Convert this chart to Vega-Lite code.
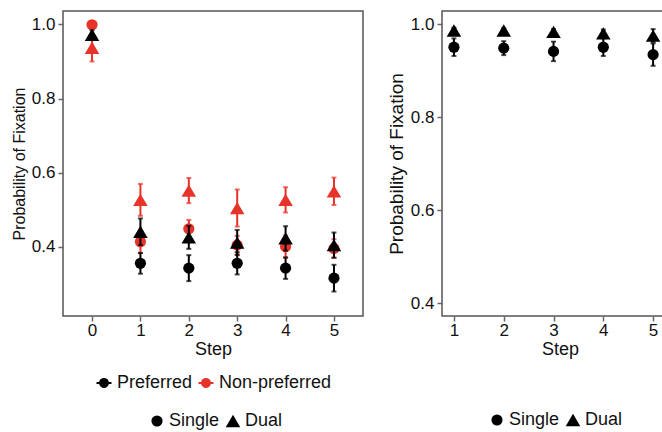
{
  "$schema": "https://vega.github.io/schema/vega-lite/v6.json",
  "autosize": {"type": "pad"},
  "padding": {"left": 10, "top": 10, "right": 0, "bottom": 0},
  "background": "white",
  "datasets": {
    "left": [
      {"step": 0, "cond": "Non-preferred", "task": "Single", "mean": 0.999, "err": 0.0},
      {"step": 1, "cond": "Non-preferred", "task": "Single", "mean": 0.414, "err": 0.030},
      {"step": 2, "cond": "Non-preferred", "task": "Single", "mean": 0.449, "err": 0.024},
      {"step": 3, "cond": "Non-preferred", "task": "Single", "mean": 0.405, "err": 0.025},
      {"step": 4, "cond": "Non-preferred", "task": "Single", "mean": 0.401, "err": 0.030},
      {"step": 5, "cond": "Non-preferred", "task": "Single", "mean": 0.396, "err": 0.025},
      {"step": 0, "cond": "Non-preferred", "task": "Dual", "mean": 0.937, "err": 0.037},
      {"step": 1, "cond": "Non-preferred", "task": "Dual", "mean": 0.527, "err": 0.043},
      {"step": 2, "cond": "Non-preferred", "task": "Dual", "mean": 0.552, "err": 0.034},
      {"step": 3, "cond": "Non-preferred", "task": "Dual", "mean": 0.505, "err": 0.050},
      {"step": 4, "cond": "Non-preferred", "task": "Dual", "mean": 0.527, "err": 0.034},
      {"step": 5, "cond": "Non-preferred", "task": "Dual", "mean": 0.550, "err": 0.037},
      {"step": 1, "cond": "Preferred", "task": "Single", "mean": 0.356, "err": 0.028},
      {"step": 2, "cond": "Preferred", "task": "Single", "mean": 0.343, "err": 0.035},
      {"step": 3, "cond": "Preferred", "task": "Single", "mean": 0.356, "err": 0.030},
      {"step": 4, "cond": "Preferred", "task": "Single", "mean": 0.343, "err": 0.029},
      {"step": 5, "cond": "Preferred", "task": "Single", "mean": 0.316, "err": 0.036},
      {"step": 0, "cond": "Preferred", "task": "Dual", "mean": 0.972, "err": 0.012},
      {"step": 1, "cond": "Preferred", "task": "Dual", "mean": 0.441, "err": 0.036},
      {"step": 2, "cond": "Preferred", "task": "Dual", "mean": 0.426, "err": 0.031},
      {"step": 3, "cond": "Preferred", "task": "Dual", "mean": 0.412, "err": 0.034},
      {"step": 4, "cond": "Preferred", "task": "Dual", "mean": 0.423, "err": 0.033},
      {"step": 5, "cond": "Preferred", "task": "Dual", "mean": 0.405, "err": 0.034}
    ],
    "right": [
      {"step": 1, "task": "Single", "mean": 0.951, "err": 0.019},
      {"step": 2, "task": "Single", "mean": 0.949, "err": 0.015},
      {"step": 3, "task": "Single", "mean": 0.942, "err": 0.021},
      {"step": 4, "task": "Single", "mean": 0.951, "err": 0.019},
      {"step": 5, "task": "Single", "mean": 0.935, "err": 0.024},
      {"step": 1, "task": "Dual", "mean": 0.987, "err": 0.006},
      {"step": 2, "task": "Dual", "mean": 0.987, "err": 0.005},
      {"step": 3, "task": "Dual", "mean": 0.984, "err": 0.006},
      {"step": 4, "task": "Dual", "mean": 0.981, "err": 0.008},
      {"step": 5, "task": "Dual", "mean": 0.976, "err": 0.014}
    ]
  },
  "bounds": "flush",
  "spacing": 79,
  "resolve": {
    "scale": {"color": "independent", "shape": "independent", "x": "independent", "y": "independent"},
    "legend": {"color": "independent", "shape": "independent"}
  },
  "hconcat": [
    {
      "width": 300,
      "height": 305,
      "data": {"name": "left"},
      "encoding": {
        "x": {"field": "step", "type": "quantitative",
              "scale": {"domain": [-0.6, 5.6], "nice": false, "zero": false},
              "axis": {"values": [0, 1, 2, 3, 4, 5], "format": "d", "title": "Step", "titlePadding": 2, "labelPadding": 1}},
        "y": {"field": "mean", "type": "quantitative",
              "scale": {"domain": [0.214, 1.036], "nice": false, "zero": false},
              "axis": {"values": [0.4, 0.6, 0.8, 1.0], "format": ".1f", "title": "Probability of Fixation", "titleFontSize": 16}},
        "color": {"field": "cond", "type": "nominal",
                  "scale": {"domain": ["Preferred", "Non-preferred"], "range": ["#000000", "#e8332a"]},
                  "legend": {"title": null, "orient": "none", "direction": "horizontal", "legendX": 32, "legendY": 363,
                             "symbolType": "M-1,-0.14 L-0.655,-0.14 A0.67,0.67 0 0,1 0.655,-0.14 L1,-0.14 L1,0.14 L0.655,0.14 A0.67,0.67 0 0,1 -0.655,0.14 L-1,0.14 Z",
                             "symbolSize": 225, "symbolOpacity": 1, "symbolStrokeWidth": 0, "labelOffset": 4, "columnPadding": 4}}
      },
      "layer": [
        {
          "transform": [{"filter": "datum.cond === 'Non-preferred'"}],
          "mark": {"type": "errorbar", "ticks": true, "size": 5, "thickness": 2},
          "encoding": {"yError": {"field": "err"}}
        },
        {
          "transform": [{"filter": "datum.cond === 'Non-preferred'"}],
          "mark": {"type": "point", "filled": true, "opacity": 1, "size": 125},
          "encoding": {
            "shape": {"field": "task", "type": "nominal",
                      "scale": {"domain": ["Single", "Dual"], "range": ["circle", "M0,-1.1 L1.3,1.1 L-1.3,1.1 Z"]},
                      "legend": {"title": null, "orient": "none", "direction": "horizontal", "legendX": 85, "legendY": 401,
                                 "symbolSize": 125, "symbolOpacity": 1, "symbolFillColor": "#000000", "symbolStrokeColor": "#000000", "symbolStrokeWidth": 0, "labelOffset": 3, "columnPadding": 4}}
          }
        },
        {
          "transform": [{"filter": "datum.cond === 'Preferred'"}],
          "mark": {"type": "errorbar", "ticks": true, "size": 5, "thickness": 2},
          "encoding": {"yError": {"field": "err"}}
        },
        {
          "transform": [{"filter": "datum.cond === 'Preferred'"}],
          "mark": {"type": "point", "filled": true, "opacity": 1, "size": 125},
          "encoding": {
            "shape": {"field": "task", "type": "nominal",
                      "scale": {"domain": ["Single", "Dual"], "range": ["circle", "M0,-1.1 L1.3,1.1 L-1.3,1.1 Z"]}}
          }
        }
      ]
    },
    {
      "width": 236,
      "height": 305,
      "data": {"name": "right"},
      "encoding": {
        "x": {"field": "step", "type": "quantitative",
              "scale": {"domain": [0.76, 5.5], "nice": false, "zero": false},
              "axis": {"values": [1, 2, 3, 4, 5], "format": "d", "title": "Step", "titlePadding": 2, "labelPadding": 1}},
        "y": {"field": "mean", "type": "quantitative",
              "scale": {"domain": [0.372, 1.029], "nice": false, "zero": false},
              "axis": {"values": [0.4, 0.6, 0.8, 1.0], "format": ".1f", "title": "Probability of Fixation", "titleFontSize": 19}}
      },
      "layer": [
        {
          "mark": {"type": "errorbar", "ticks": true, "size": 5, "thickness": 2, "color": "#000000"},
          "encoding": {"yError": {"field": "err"}}
        },
        {
          "mark": {"type": "point", "filled": true, "opacity": 1, "size": 125, "color": "#000000"},
          "encoding": {
            "shape": {"field": "task", "type": "nominal",
                      "scale": {"domain": ["Single", "Dual"], "range": ["circle", "M0,-1.1 L1.3,1.1 L-1.3,1.1 Z"]},
                      "legend": {"title": null, "orient": "none", "direction": "horizontal", "legendX": 46, "legendY": 400,
                                 "symbolSize": 125, "symbolOpacity": 1, "symbolFillColor": "#000000", "symbolStrokeWidth": 0, "labelOffset": 3, "columnPadding": 4}}
          }
        }
      ]
    }
  ],
  "config": {
    "font": "Liberation Sans",
    "view": {"stroke": "#555555", "strokeWidth": 1.5},
    "axis": {
      "grid": false, "domain": false,
      "tickColor": "#666666", "tickSize": 5, "tickWidth": 1.5,
      "labelFontSize": 17, "labelColor": "#111111", "labelPadding": 3,
      "titleFontSize": 18, "titleFontWeight": "normal", "titleColor": "#111111", "titlePadding": 4
    },
    "legend": {"labelFontSize": 18, "labelColor": "#111111", "padding": 0}
  }
}
